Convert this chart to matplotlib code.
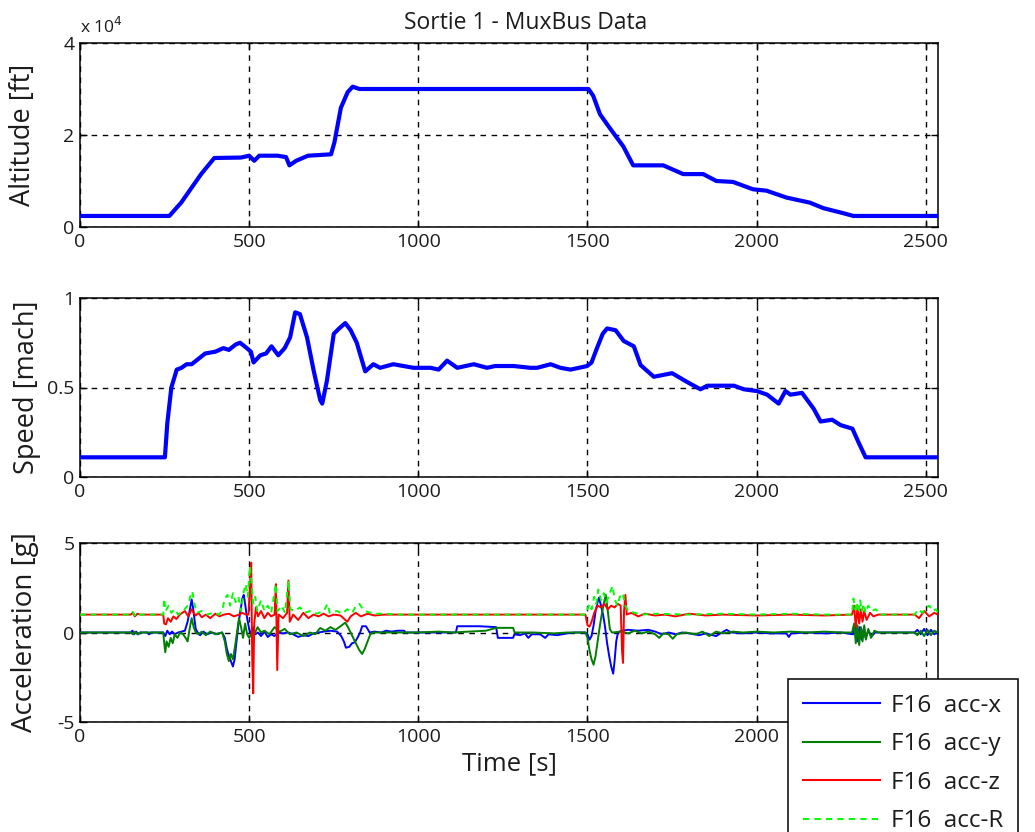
import matplotlib
matplotlib.use("Agg")
import matplotlib.pyplot as plt
import numpy as np

plt.rcParams['font.family'] = ['Open Sans', 'DejaVu Sans']

# ---------------- data ----------------
ALT_T = [0, 264, 299, 358, 397, 476, 500, 515, 530, 584, 609, 619, 639, 674, 742, 752, 771,
         791, 806, 826, 1503, 1517, 1537, 1566, 1606, 1635, 1724, 1783, 1842, 1881, 1930,
         1989, 2029, 2088, 2157, 2197, 2256, 2286, 2536]
ALT_FT = [2400, 2400, 5300, 11500, 15000, 15100, 15500, 14400, 15500, 15500, 15200, 13400,
          14400, 15500, 15800, 18400, 25900, 29300, 30500, 30000, 30000, 28500, 24500, 21500,
          17500, 13400, 13400, 11500, 11500, 10000, 9800, 8200, 7900, 6400, 5300, 4100, 3000,
          2400, 2400]

SPD_T = [0, 251, 258, 270, 286, 300, 315, 330, 350, 370, 400, 424, 440, 460, 473, 493, 505,
         513, 533, 550, 566, 586, 605, 621, 636, 650, 671, 690, 710, 716, 730, 750, 766, 784,
         800, 818, 843, 867, 887, 926, 986, 1036, 1060, 1085, 1115, 1164, 1203, 1227, 1282,
         1331, 1351, 1391, 1420, 1450, 1499, 1512, 1528, 1545, 1558, 1583, 1607, 1637, 1657,
         1696, 1750, 1795, 1834, 1854, 1933, 1962, 2001, 2031, 2065, 2085, 2100, 2134, 2169,
         2189, 2223, 2248, 2283, 2302, 2322, 2536]
SPD_MACH = [0.11, 0.11, 0.3, 0.5, 0.6, 0.61, 0.63, 0.63, 0.66, 0.69, 0.7, 0.72, 0.71, 0.74,
            0.75, 0.72, 0.7, 0.64, 0.68, 0.69, 0.73, 0.68, 0.72, 0.78, 0.92, 0.91, 0.78, 0.6,
            0.43, 0.41, 0.54, 0.8, 0.83, 0.86, 0.82, 0.75, 0.59, 0.63, 0.61, 0.63, 0.61, 0.61,
            0.6, 0.65, 0.61, 0.63, 0.61, 0.62, 0.62, 0.61, 0.61, 0.63, 0.61, 0.60, 0.62, 0.64,
            0.72, 0.80, 0.83, 0.82, 0.76, 0.73, 0.625, 0.56, 0.58, 0.53, 0.49, 0.51, 0.51, 0.49,
            0.48, 0.46, 0.41, 0.48, 0.46, 0.47, 0.38, 0.31, 0.32, 0.29, 0.27, 0.19, 0.11, 0.11]

ACC_X_PTS = [(0,0),(150,0),(155,0.1),(160,-0.1),(166,0.05),(172,-0.1),(178,0),(200,0),(204,-0.1),
    (210,0),(246,0),(252,-0.2),(258,0.1),(265,-0.1),(272,0.05),(280,-0.1),(290,0),(300,0.05),
    (310,0.1),(318,0.6),(324,1.2),(330,1.85),(334,1.4),(338,0.8),(342,0.2),(348,0),(355,-0.15),
    (365,0.05),(375,-0.1),(390,0),(405,-0.1),(420,0),(428,-0.3),(434,-0.9),(440,-1.3),(446,-1.6),
    (452,-1.9),(457,-1.5),(462,-0.6),(468,0.4),(474,1.2),(480,1.9),(484,2.1),(488,1.6),(494,0.8),
    (500,0.2),(506,-0.2),(512,0.3),(518,-0.1),(526,0),(535,-0.2),(545,0.05),(555,-0.25),
    (565,-0.1),(575,-0.2),(585,0),(600,-0.05),(615,0),(630,-0.1),(645,-0.25),(660,-0.15),
    (675,-0.2),(690,-0.05),(705,0),(720,0.05),(740,0.1),(760,0.05),(772,-0.2),(780,-0.5),
    (786,-0.85),(796,-0.8),(804,-0.6),(812,-0.55),(820,-0.3),(828,0.0),(834,0.35),(845,0.35),
    (850,0.2),(856,0.0),(870,0.05),(890,0.0),(905,0.1),(920,0.05),(940,0.1),(958,0.1),(962,0),
    (1000,0),(1111,0),(1115,0.35),(1180,0.35),(1230,0.3),(1235,-0.3),(1280,-0.3),(1284,-0.1),
    (1300,-0.15),(1315,-0.05),(1325,-0.3),(1335,-0.1),(1360,-0.1),(1375,-0.3),(1385,-0.1),
    (1410,-0.15),(1440,-0.05),(1460,0),(1494,0),(1500,-0.1),(1506,-0.4),(1512,-0.2),(1518,0.4),
    (1524,1.2),(1530,1.7),(1534,1.95),(1540,1.5),(1546,1.0),(1552,0.3),(1558,-0.6),(1564,-1.3),
    (1570,-1.9),(1576,-2.3),(1580,-1.6),(1585,-0.5),(1590,0),(1600,0.1),(1620,0.15),(1650,0.1),
    (1680,0.15),(1700,0.05),(1720,-0.1),(1740,0),(1760,-0.1),(1780,0),(1800,-0.05),(1830,-0.15),
    (1850,-0.05),(1880,-0.2),(1911,0.15),(1925,0),(1960,-0.05),(2000,0),(2040,-0.05),(2088,-0.05),
    (2095,-0.25),(2102,-0.05),(2150,0),(2200,-0.05),(2250,0),(2285,-0.1),(2292,0.4),(2298,-0.5),
    (2304,0.3),(2310,-0.4),(2316,0.2),(2322,-0.3),(2330,0.1),(2340,-0.2),(2350,0),(2364,0),
    (2467,0),(2475,0.15),(2485,-0.1),(2495,0.2),(2505,-0.15),(2515,0.15),(2525,-0.1),(2535,0.05)]

ACC_Y_PTS = [(0,0),(150,0),(156,-0.1),(162,0.05),(170,-0.1),(178,0),(246,0),(249,-0.6),(252,-1.1),
    (256,-0.5),(262,-0.8),(268,-0.3),(274,-0.6),(280,-0.1),(288,-0.3),(296,0),(305,-0.1),
    (312,-0.3),(318,-0.5),(324,0.2),(330,0.8),(336,0.3),(342,0),(350,-0.1),(360,0.05),(372,-0.15),
    (385,0.05),(400,-0.1),(420,0),(428,-0.5),(434,-1.2),(440,-1.6),(446,-1.2),(452,-1.5),
    (458,-0.8),(464,0.0),(470,0.8),(476,0.3),(482,-0.3),(488,0.5),(494,-0.1),(500,-0.3),(508,0),
    (515,-0.1),(525,0.3),(535,0),(545,0.1),(560,-0.1),(575,0.3),(590,0.05),(605,0.2),(620,-0.1),
    (640,0),(660,-0.2),(680,0),(695,-0.1),(710,0.25),(725,0.1),(740,0.3),(755,0.15),(770,0.35),
    (784,0.55),(792,0.3),(800,0),(810,-0.4),(818,-0.7),(826,-1.0),(834,-1.2),(842,-0.9),
    (850,-0.5),(858,-0.1),(866,0),(1000,0),(1060,0.05),(1100,0),(1200,0.1),(1230,0.26),
    (1280,0.26),(1285,0),(1340,0),(1400,-0.05),(1440,0),(1494,0),(1500,-0.3),(1506,-1.0),
    (1512,-1.5),(1518,-1.8),(1524,-1.3),(1530,-0.5),(1536,0.3),(1542,1.0),(1548,1.6),(1554,2.1),
    (1560,1.2),(1566,0.2),(1572,0),(1600,0.05),(1620,-0.05),(1640,0.1),(1660,-0.05),(1680,0.05),
    (1700,-0.1),(1712,-0.3),(1724,-0.05),(1740,-0.1),(1752,-0.35),(1764,-0.1),(1790,0),
    (1820,-0.1),(1840,0.05),(1860,-0.2),(1880,0.05),(1900,-0.05),(1930,0.05),(1960,0),(2000,0.05),
    (2050,0),(2100,0.05),(2150,0),(2200,0.05),(2250,0),(2282,0),(2288,0.5),(2293,-0.6),(2298,0.4),
    (2303,-0.7),(2308,0.3),(2313,-0.5),(2318,0.4),(2323,-0.4),(2330,0.2),(2338,-0.3),(2348,0.1),
    (2360,0),(2467,0),(2475,-0.15),(2485,0.1),(2495,-0.2),(2505,0.15),(2515,-0.15),(2525,0.1),
    (2535,0)]

ACC_Z_PTS = [(0,1),(150,1),(156,1.1),(162,0.9),(170,1.05),(178,1),(246,1),(249,0.5),(254,0.45),
    (260,0.8),(268,0.6),(276,0.9),(285,0.75),(295,1.0),(310,1.2),(320,0.9),(330,1.3),(336,1.1),
    (342,0.95),(350,1.1),(360,0.85),(372,1.0),(385,0.8),(400,1.05),(412,0.9),(425,1.0),(440,1.05),
    (455,0.9),(470,1.0),(480,1.1),(490,1.0),(498,1.0),(502,2.5),(506,3.9),(509,-1.5),(512,-3.4),
    (515,0.5),(520,1.4),(526,0.9),(535,1.2),(545,0.8),(555,1.1),(565,0.9),(575,1.0),(579,2.7),
    (583,-2.1),(587,1.0),(600,0.8),(612,1.1),(616,2.9),(620,0.6),(630,1.0),(645,0.7),(660,1.1),
    (675,0.8),(690,1.0),(705,0.9),(720,1.05),(735,0.9),(750,1.0),(770,0.95),(790,0.6),(800,0.9),
    (815,1.1),(830,0.9),(850,1.05),(870,0.95),(900,1.0),(1494,1.0),(1500,0.4),(1506,0.33),
    (1512,0.6),(1520,1.1),(1530,1.5),(1540,1.4),(1550,1.6),(1560,1.3),(1570,1.5),(1580,1.4),
    (1590,1.6),(1598,1.5),(1602,-1.0),(1605,-1.7),(1608,1.2),(1612,2.1),(1616,1.0),(1630,1.1),
    (1650,0.9),(1670,1.05),(1700,0.95),(1730,1.0),(1760,0.9),(1800,1.05),(1850,0.95),(1900,1.0),
    (2000,0.95),(2100,1.0),(2200,0.95),(2282,1.0),(2288,1.5),(2293,0.3),(2298,1.4),(2303,0.5),
    (2308,1.3),(2313,0.6),(2318,1.2),(2325,0.7),(2335,1.1),(2345,0.9),(2360,1.0),(2467,1.0),
    (2480,0.8),(2495,1.2),(2510,0.9),(2525,1.1),(2535,1.0)]

ACC_R_PTS = [(0,1),(150,1),(156,1.15),(162,0.95),(170,1.1),(178,1),(246,1),(249,1.9),(253,1.2),
    (262,1.5),(270,1.1),(280,1.3),(290,1.0),(305,1.2),(318,1.5),(326,2.0),(332,2.3),(338,1.6),
    (345,1.1),(360,1.2),(375,1.0),(395,1.1),(410,1.0),(420,1.2),(428,1.9),(436,2.1),(444,1.5),
    (452,2.2),(460,1.7),(468,2.0),(476,1.2),(484,2.3),(490,2.7),(496,2.0),(502,3.7),(506,3.0),
    (512,1.6),(518,2.0),(524,1.2),(535,1.8),(545,1.2),(555,1.5),(565,1.1),(579,2.7),(584,1.2),
    (596,1.5),(606,1.1),(616,2.9),(622,1.3),(635,1.2),(650,1.4),(665,1.1),(680,1.2),(700,1.05),
    (720,1.2),(732,1.6),(738,1.1),(760,1.2),(775,1.05),(790,1.3),(805,1.1),(816,1.5),(826,1.6),
    (836,1.3),(850,1.15),(870,1.05),(900,1.05),(950,1.0),(1494,1.0),(1500,1.3),(1506,1.6),
    (1512,1.3),(1520,2.0),(1526,1.6),(1532,2.4),(1540,1.8),(1548,2.2),(1556,1.7),(1566,2.2),
    (1574,2.6),(1580,1.9),(1588,1.5),(1596,2.0),(1604,2.2),(1612,1.5),(1620,1.2),(1640,1.1),
    (1660,1.0),(1700,1.05),(1800,1.0),(1900,1.05),(2000,1.0),(2100,1.05),(2200,1.0),(2282,1.0),
    (2286,1.9),(2291,1.3),(2296,1.7),(2301,1.1),(2306,1.8),(2311,1.2),(2316,1.6),(2322,1.1),
    (2330,1.5),(2340,1.2),(2352,1.3),(2365,1.0),(2467,1.0),(2478,1.3),(2490,1.1),(2500,1.4),
    (2511,1.5),(2520,1.2),(2530,1.3),(2535,1.1)]

ACC_LABELS = ['F16  acc-x', 'F16  acc-y', 'F16  acc-z', 'F16  acc-R']
X_TICKS = [0, 500, 1000, 1500, 2000, 2500]
ALT_TICKS = [0, 20000, 40000]
ALT_TICKLABELS = ['0', '2', '4']
SPD_TICKS = [0, 0.5, 1]
SPD_TICKLABELS = ['0', '0.5', '1']
ACC_TICKS = [-5, 0, 5]
ACC_TICKLABELS = ['-5', '0', '5']

# ---------------- figure ----------------
W, H = 1035, 832
fig = plt.figure(figsize=(W / 100, H / 100), dpi=100)
fig.patch.set_facecolor('white')

def px_axes(x0, y0, x1, y1):
    return fig.add_axes([x0 / W, 1 - y1 / H, (x1 - x0) / W, (y1 - y0) / H])

XMAX = 2536
TXT = '#1c1c1c'
TICK_FS = 14
LAB_FS = 19.5

def style(ax, yticks, yticklabels, ylim, ylabel, labx, fs=LAB_FS, bpad=0):
    ax.set_xlim(0, XMAX)
    ax.set_ylim(*ylim)
    ax.set_xticks(X_TICKS)
    ax.set_xticklabels([str(v) for v in X_TICKS])
    ax.set_yticks(yticks)
    ax.set_yticklabels(yticklabels)
    ax.tick_params(direction='in', length=5, width=1, top=True, right=True,
                   labelsize=TICK_FS, labelcolor=TXT, pad=4)
    for s in ax.spines.values():
        s.set_linewidth(1.1)
    ax.grid(True, color='black', linestyle=(0, (4, 4)), linewidth=1.0)
    ax.set_axisbelow(False)
    ax.set_ylabel(ylabel, fontsize=fs, color=TXT,
                  bbox=dict(facecolor='white', edgecolor='none', pad=bpad))
    ax.yaxis.set_label_coords(labx, 0.5)

# Altitude
ax1 = px_axes(80, 43, 938, 227)
ax1.plot(ALT_T, ALT_FT, color='#0000ff', linewidth=3.0, zorder=3)
style(ax1, ALT_TICKS, ALT_TICKLABELS, (0, 40000), 'Altitude [ft]', -0.050)
ax1.set_title('Sortie 1 - MuxBus Data', fontsize=16.5, color=TXT, pad=10,
              x=(526 - 80) / 858)
ax1.text(0.0, 1.03, r'x 10$^{4}$', transform=ax1.transAxes, fontsize=12.5,
         color=TXT, ha='left', va='bottom')

# Speed
ax2 = px_axes(80, 298, 938, 477)
ax2.plot(SPD_T, SPD_MACH, color='#0000ff', linewidth=3.0, zorder=3)
style(ax2, SPD_TICKS, SPD_TICKLABELS, (0, 1), 'Speed [mach]', -0.046, bpad=0)

# Acceleration
ax3 = px_axes(80, 543, 938, 722)
series = [(ACC_X_PTS, '#0000ff', '-'), (ACC_Y_PTS, '#007f00', '-'),
          (ACC_Z_PTS, '#ff0000', '-'), (ACC_R_PTS, '#00ff00', (0, (3, 2.5)))]
handles = []
for (pts, col, ls), lab in zip(series, ACC_LABELS):
    t = [p[0] for p in pts]
    v = [p[1] for p in pts]
    h, = ax3.plot(t, v, color=col, linestyle=ls, linewidth=1.4, label=lab, zorder=3)
    handles.append(h)
style(ax3, ACC_TICKS, ACC_TICKLABELS, (-5, 5), 'Acceleration [g]', -0.048, fs=20)
ax3.set_xlabel('Time [s]', fontsize=18.5, color=TXT, labelpad=4)

leg = fig.legend(handles=handles, labels=ACC_LABELS, loc='upper left',
                 bbox_to_anchor=(788 / W, 1 - 679 / H), bbox_transform=fig.transFigure,
                 fontsize=17.5, frameon=True, fancybox=False, framealpha=1.0,
                 borderpad=0.6, handlelength=3.2, handletextpad=0.45,
                 labelspacing=0.6, borderaxespad=0)
leg.get_frame().set_edgecolor('black')
leg.get_frame().set_linewidth(1.1)
for txt in leg.get_texts():
    txt.set_color(TXT)
for lh in leg.get_lines():
    lh.set_linewidth(1.5)

fig.savefig('out.png', dpi=100)
